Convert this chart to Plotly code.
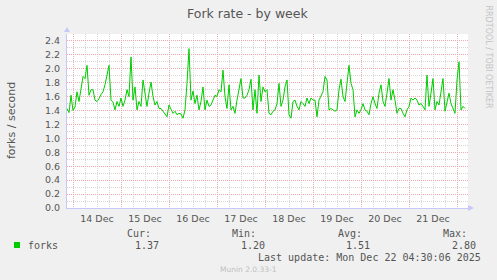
import pandas as pd
import plotly.graph_objects as go

# ---------------- data ----------------
title = "Fork rate - by week"
y_title = "forks / second"
series_name = "forks"
start = "2025-12-13 21:00"
forks = [
    1.43, 1.37, 1.62, 1.40, 1.45, 1.67, 1.53, 1.72, 1.89, 1.86,
    2.05, 1.62, 1.70, 1.70, 1.55, 1.53, 1.57, 1.63, 1.67, 1.77,
    1.91, 2.05, 1.55, 1.52, 1.41, 1.53, 1.46, 1.58, 1.46, 1.55,
    1.70, 1.60, 2.17, 1.55, 1.74, 1.41, 1.53, 1.46, 1.84, 1.62,
    1.46, 1.65, 1.81, 1.60, 1.48, 1.53, 1.43, 1.43, 1.39, 1.34,
    1.31, 1.48, 1.43, 1.36, 1.39, 1.34, 1.36, 1.35, 1.29, 1.41,
    1.79, 2.29, 1.55, 1.68, 1.50, 1.62, 1.41, 1.53, 1.74, 1.41,
    1.55, 1.46, 1.48, 1.55, 1.62, 1.60, 1.70, 1.67, 1.98, 1.60,
    1.43, 1.77, 1.41, 1.46, 1.36, 1.55, 1.70, 1.86, 1.58, 1.58,
    1.62, 1.70, 1.85, 1.41, 1.70, 1.36, 1.91, 1.53, 1.74, 1.67,
    1.70, 1.36, 1.34, 1.39, 1.41, 1.50, 1.79, 1.46, 1.55, 1.74,
    1.84, 1.34, 1.29, 1.53, 1.55, 1.46, 1.41, 1.53, 1.50, 1.46,
    1.58, 1.50, 1.58, 1.55, 1.55, 1.31, 1.55, 1.60, 1.67, 1.89,
    1.84, 1.41, 1.43, 1.41, 1.39, 1.41, 1.70, 1.85, 1.60, 1.53,
    1.79, 2.05, 1.79, 1.70, 1.31, 1.41, 1.36, 1.41, 1.50, 1.41,
    1.39, 1.34, 1.50, 1.60, 1.50, 1.43, 1.65, 1.77, 1.53, 1.46,
    1.65, 1.86, 1.55, 1.70, 1.55, 1.36, 1.43, 1.43, 1.36, 1.31,
    1.41, 1.46, 1.58, 1.55, 1.58, 1.55, 1.48, 1.50, 1.46, 1.41,
    1.91, 1.46, 1.65, 1.86, 1.41, 1.53, 1.48, 1.70, 1.86, 1.39,
    1.53, 1.65, 1.50, 1.43, 1.36, 1.84, 2.10, 1.41, 1.46, 1.43,
]
stat_labels = ["Cur:", "Min:", "Avg:", "Max:"]
stat_values = ["1.37", "1.20", "1.51", "2.80"]
last_update = "Last update: Mon Dec 22 04:30:06 2025"
watermark = "RRDTOOL / TOBI OETIKER"
footer = "Munin 2.0.33-1"

# ---------------- layout geometry / style ----------------
W, H = 497, 280
L, R, T, B = 67, 468, 34, 208
HOURS_SPAN = (R - L) / 2.0
BG = "#F0F0F0"
GREEN = "#00CC00"
MAJ = "#F2A8A8"
MIN = "#D6D6D6"
AXIS = "#C8C8F8"
TXT = "#555555"
SANS = "DejaVu Sans"
MONO = "DejaVu Sans Mono"


def px(x):
    return (x - L) / (R - L)


def py(y):
    return (B - y) / (B - T)


times = pd.date_range(start, periods=len(forks), freq="h")
t0 = pd.Timestamp(start)
x_range = [t0, t0 + pd.Timedelta(hours=HOURS_SPAN)]
midnight = t0.normalize() + pd.Timedelta(days=1)

fig = go.Figure()
fig.add_trace(go.Scatter(
    x=times, y=forks, mode="lines", name=series_name,
    line=dict(color=GREEN, width=1), showlegend=False, hoverinfo="skip",
))

fig.update_layout(
    width=W, height=H,
    margin=dict(l=L, r=W - R, t=T, b=H - B, pad=0),
    paper_bgcolor=BG, plot_bgcolor="white",
    font=dict(family=SANS, size=9, color=TXT),
    xaxis=dict(
        type="date", range=x_range,
        tick0=midnight, dtick=86400000, tickformat="%d %b",
        ticklabelmode="period",
        showgrid=True, gridcolor=MAJ, griddash="1px,1px", gridwidth=1,
        minor=dict(dtick=6 * 3600 * 1000, tick0=midnight, showgrid=True,
                   gridcolor=MIN, griddash="1px,1px", gridwidth=1),
        showline=True, linecolor=AXIS, linewidth=1,
        ticks="outside", ticklen=2, tickcolor="rgba(0,0,0,0)",
        tickfont=dict(family=SANS, size=9.5, color=TXT),
        zeroline=False, fixedrange=True,
    ),
    yaxis=dict(
        range=[0, 2.5], tick0=0, dtick=0.2, tickformat=".1f",
        showgrid=True, gridcolor=MAJ, griddash="1px,1px", gridwidth=1,
        minor=dict(dtick=0.1, tick0=0, showgrid=True,
                   gridcolor=MIN, griddash="1px,1px", gridwidth=1),
        showline=True, linecolor=AXIS, linewidth=1,
        ticks="outside", ticklen=4, tickcolor="rgba(0,0,0,0)",
        tickfont=dict(family=SANS, size=9.5, color=TXT),
        zeroline=False, fixedrange=True,
    ),
)

ann = []
# title
ann.append(dict(text=title, x=px(248), y=py(13), xanchor="center", yanchor="middle",
                font=dict(family=SANS, size=12.5, color=TXT)))
# y title
ann.append(dict(text=y_title, x=px(11), y=py(121), xanchor="center", yanchor="middle",
                textangle=-90, font=dict(family=SANS, size=11, color=TXT)))
# watermark
ann.append(dict(text=watermark, x=px(488.5), y=py(57), xanchor="center", yanchor="middle",
                textangle=90, font=dict(family=SANS, size=8, color="#C4C4C4")))
# legend name
ann.append(dict(text=series_name, x=px(26), y=py(245), xanchor="left", yanchor="middle",
                font=dict(family=MONO, size=10, color=TXT)))
# statistics
label_right = [153, 258, 364, 469]
value_right = [161, 267, 372, 478]
for lab, val, lr, vr in zip(stat_labels, stat_values, label_right, value_right):
    ann.append(dict(text=lab, x=px(lr), y=py(233), xanchor="right", yanchor="middle",
                    font=dict(family=MONO, size=10, color=TXT)))
    ann.append(dict(text=val, x=px(vr), y=py(245), xanchor="right", yanchor="middle",
                    font=dict(family=MONO, size=10, color=TXT)))
ann.append(dict(text=last_update, x=px(483), y=py(257), xanchor="right", yanchor="middle",
                font=dict(family=MONO, size=10, color=TXT)))
ann.append(dict(text=footer, x=px(248.5), y=py(269), xanchor="center", yanchor="middle",
                font=dict(family=SANS, size=7.5, color="#C0C0C0")))
for a in ann:
    a.update(xref="paper", yref="paper", showarrow=False)
fig.update_layout(annotations=ann)

shapes = [
    # legend swatch
    dict(type="rect", x0=px(14), x1=px(20), y0=py(242), y1=py(248),
         fillcolor=GREEN, line=dict(width=0)),
    # y axis arrow
    dict(type="path", path=f"M {px(64)},{py(32)} L {px(70)},{py(32)} L {px(67)},{py(27)} Z",
         fillcolor=AXIS, line=dict(width=0)),
    # x axis arrow
    dict(type="path", path=f"M {px(468)},{py(205)} L {px(468)},{py(211)} L {px(474)},{py(208)} Z",
         fillcolor=AXIS, line=dict(width=0)),
]
for s in shapes:
    s.update(xref="paper", yref="paper", layer="above")
fig.update_layout(shapes=shapes)

fig.write_html("out.html")
